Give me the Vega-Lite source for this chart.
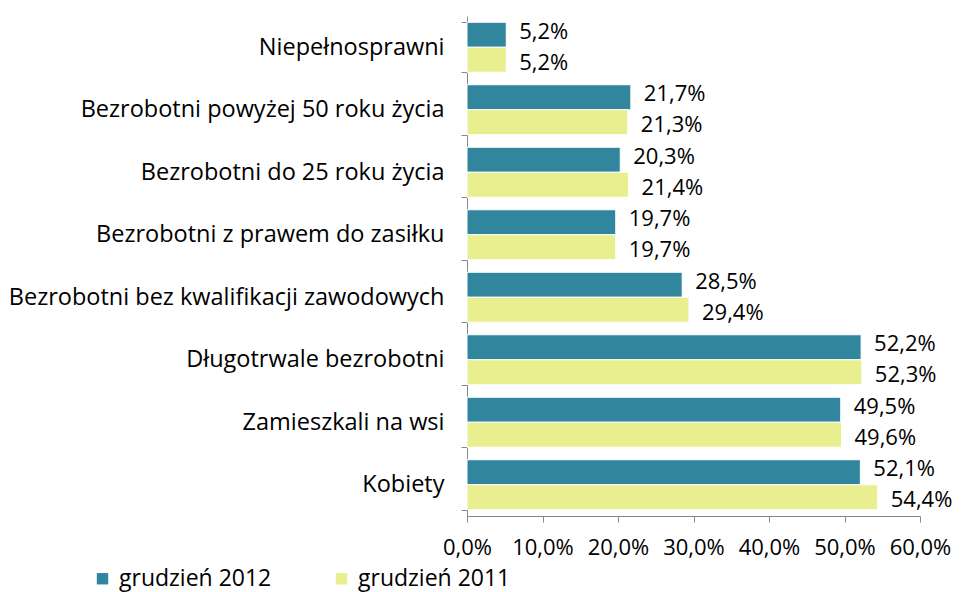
{
  "$schema": "https://vega.github.io/schema/vega-lite/v6.json",
  "autosize": "none",
  "width": 453,
  "height": 500,
  "padding": {"left": 467, "top": 16, "right": 43, "bottom": 76},
  "background": "white",
  "config": {
    "locale": {"number": {"decimal": ",", "thousands": " ", "grouping": [3], "currency": ["", " zł"]}},
    "font": "Open Sans",
    "view": {"stroke": null},
    "axis": {"labelFont": "Open Sans", "labelColor": "#000000", "domainColor": "#868686", "tickColor": "#868686", "grid": false, "title": null, "labelOverlap": false}
  },
  "data": {
    "values": [
      {"kategoria": "Niepełnosprawni", "okres": "grudzień 2012", "wartosc": 0.052},
      {"kategoria": "Niepełnosprawni", "okres": "grudzień 2011", "wartosc": 0.052},
      {"kategoria": "Bezrobotni powyżej 50 roku życia", "okres": "grudzień 2012", "wartosc": 0.217},
      {"kategoria": "Bezrobotni powyżej 50 roku życia", "okres": "grudzień 2011", "wartosc": 0.213},
      {"kategoria": "Bezrobotni do 25 roku życia", "okres": "grudzień 2012", "wartosc": 0.203},
      {"kategoria": "Bezrobotni do 25 roku życia", "okres": "grudzień 2011", "wartosc": 0.214},
      {"kategoria": "Bezrobotni z prawem do zasiłku", "okres": "grudzień 2012", "wartosc": 0.197},
      {"kategoria": "Bezrobotni z prawem do zasiłku", "okres": "grudzień 2011", "wartosc": 0.197},
      {"kategoria": "Bezrobotni bez kwalifikacji zawodowych", "okres": "grudzień 2012", "wartosc": 0.285},
      {"kategoria": "Bezrobotni bez kwalifikacji zawodowych", "okres": "grudzień 2011", "wartosc": 0.294},
      {"kategoria": "Długotrwale bezrobotni", "okres": "grudzień 2012", "wartosc": 0.522},
      {"kategoria": "Długotrwale bezrobotni", "okres": "grudzień 2011", "wartosc": 0.523},
      {"kategoria": "Zamieszkali na wsi", "okres": "grudzień 2012", "wartosc": 0.495},
      {"kategoria": "Zamieszkali na wsi", "okres": "grudzień 2011", "wartosc": 0.496},
      {"kategoria": "Kobiety", "okres": "grudzień 2012", "wartosc": 0.521},
      {"kategoria": "Kobiety", "okres": "grudzień 2011", "wartosc": 0.544}
    ]
  },
  "encoding": {
    "y": {
      "field": "kategoria", "type": "nominal", "sort": null,
      "scale": {"paddingInner": 0.2, "paddingOuter": 0.1},
      "axis": {"tickBand": "extent", "tickSize": 6, "labelPadding": 17, "labelLimit": 500, "labelFontSize": 23.5}
    },
    "yOffset": {"field": "okres", "type": "nominal", "sort": ["grudzień 2012", "grudzień 2011"], "scale": {"paddingInner": 0}},
    "x": {
      "field": "wartosc", "type": "quantitative",
      "scale": {"domain": [0, 0.6], "nice": false},
      "axis": {"format": ".1%", "values": [0, 0.1, 0.2, 0.3, 0.4, 0.5, 0.6], "tickSize": 6, "labelPadding": 15, "labelFlush": false, "labelFontSize": 22}
    }
  },
  "layer": [
    {
      "mark": {"type": "bar", "stroke": "#ffffff", "strokeWidth": 1},
      "encoding": {
        "color": {
          "field": "okres", "type": "nominal",
          "scale": {"domain": ["grudzień 2012", "grudzień 2011"], "range": ["#31859C", "#E9EF8E"]},
          "legend": {
            "title": null, "orient": "none", "direction": "horizontal", "legendX": -376, "legendY": 551,
            "symbolType": "square", "symbolSize": 130, "symbolStrokeWidth": 0, "labelFontSize": 23, "labelFont": "Open Sans", "labelColor": "#000000", "columnPadding": 58, "labelOffset": 5
          }
        }
      }
    },
    {
      "transform": [{"filter": "datum.okres === 'grudzień 2012'"}],
      "mark": {"type": "text", "align": "left", "baseline": "middle", "dx": 13, "dy": -3, "fontSize": 22, "font": "Open Sans", "color": "#000000"},
      "encoding": {"text": {"field": "wartosc", "type": "quantitative", "format": ".1%"}}
    },
    {
      "transform": [{"filter": "datum.okres === 'grudzień 2011'"}],
      "mark": {"type": "text", "align": "left", "baseline": "middle", "dx": 13, "dy": 3, "fontSize": 22, "font": "Open Sans", "color": "#000000"},
      "encoding": {"text": {"field": "wartosc", "type": "quantitative", "format": ".1%"}}
    }
  ]
}
